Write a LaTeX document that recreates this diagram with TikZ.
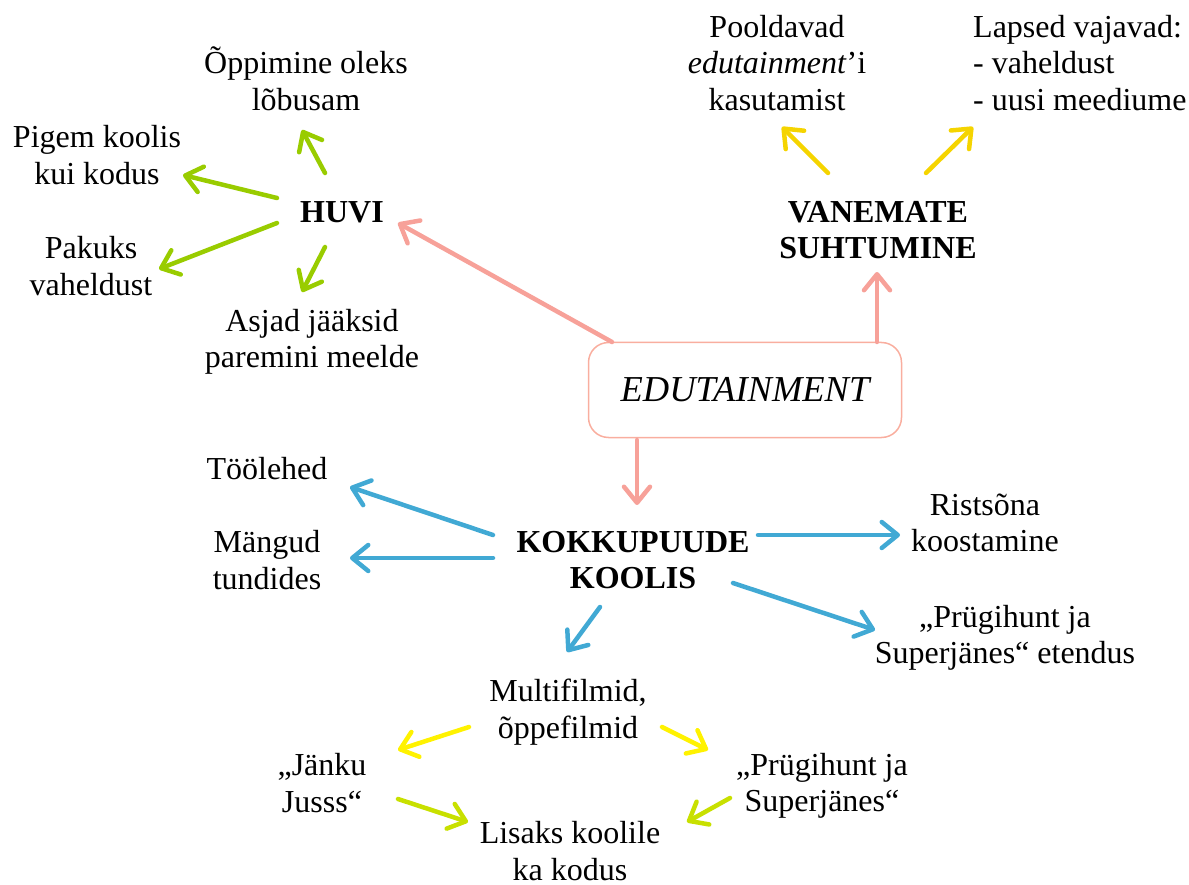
\documentclass[tikz,border=0pt]{standalone}
\usepackage{fontspec}
\setmainfont{Liberation Serif}
\usetikzlibrary{arrows.meta}

\definecolor{salmon}{HTML}{F7A199}
\definecolor{boxpink}{HTML}{F9AE9F}
\definecolor{lime}{HTML}{99CC00}
\definecolor{sky}{HTML}{41A9D4}
\definecolor{gold}{HTML}{F5D400}
\definecolor{lemon}{HTML}{FFF200}
\definecolor{citron}{HTML}{C8E000}

\tikzset{
  txt/.style={inner sep=0pt,align=center,font=\fontsize{32}{36.5}\selectfont},
  head/.style={txt,font=\fontsize{32}{36.5}\selectfont\bfseries},
  arr/.style={line width=4.5pt,line cap=round,-{Straight Barb[length=16pt,width=26pt,round]}},
}

\begin{document}
\begin{tikzpicture}[x=1pt,y=-1pt]
    \useasboundingbox (0,0) rectangle (1189,885);

    \node[draw=boxpink,line width=1.5pt,rounded corners=20pt,minimum width=313pt,minimum height=95pt,
          font=\fontsize{36.5}{40}\selectfont\itshape] (edu) at (745,390) {EDUTAINMENT};

    \node[head] (huvi) at (342,212) {HUVI};
    \node[txt] (opp) at (306,79) {Õppimine oleks\\lõbusam};
    \node[txt] (pigem) at (97,155) {Pigem koolis\\kui kodus};
    \node[txt] (pakuks) at (91,266) {Pakuks\\vaheldust};
    \node[txt] (asjad) at (312,342) {Asjad jääksid\\paremini meelde};

    \node[head] (vanemate) at (878,230) {VANEMATE\\SUHTUMINE};
    \node[txt] (pooldavad) at (777,63) {Pooldavad\\\textit{edutainment}’i\\kasutamist};
    \node[txt,align=left,anchor=west] (lapsed) at (973,63) {Lapsed vajavad:\\- vaheldust\\- uusi meediume};

    \node[head] (kokku) at (633,560) {KOKKUPUUDE\\KOOLIS};
    \node[txt] (tool) at (267,469) {Töölehed};
    \node[txt] (mangud) at (267,560) {Mängud\\tundides};
    \node[txt] (rist) at (985,523) {Ristsõna\\koostamine};
    \node[txt] (etendus) at (1005,638) {„Prügihunt ja\\Superjänes“ etendus};

    \node[txt] (multi) at (568,712) {Multifilmid,\\õppefilmid};
    \node[txt] (jank) at (322,783) {„Jänku\\Jusss“};
    \node[txt] (pruugi) at (822,786) {„Prügihunt ja\\Superjänes“};
    \node[txt] (lisaks) at (570,851) {Lisaks koolile\\ka kodus};

    % edutainment
    \path ([shift={(-133,-48)}]edu.center) edge[arr,draw=salmon] ([shift={(56,11)}]huvi.center);
    \path ([shift={(132,-48)}]edu.center) edge[arr,draw=salmon] ([shift={(-1,42)}]vanemate.center);
    \path ([shift={(-108,50)}]edu.center) edge[arr,draw=salmon] ([shift={(4,-55)}]kokku.center);

    % huvi
    \path ([shift={(-17,-39)}]huvi.center) edge[arr,draw=lime] ([shift={(-4,51)}]opp.center);
    \path ([shift={(-65,-14)}]huvi.center) edge[arr,draw=lime] ([shift={(86,20)}]pigem.center);
    \path ([shift={(-65,11)}]huvi.center) edge[arr,draw=lime] ([shift={(68,3)}]pakuks.center);
    \path ([shift={(-17,35)}]huvi.center) edge[arr,draw=lime] ([shift={(-10,-50)}]asjad.center);

    % vanemate suhtumine
    \path ([shift={(-50,-57)}]vanemate.center) edge[arr,draw=gold] ([shift={(5,64)}]pooldavad.center);
    \path ([shift={(48,-57)}]vanemate.center) edge[arr,draw=gold] ([shift={(0,64)}]lapsed.west);

    % kokkupuude koolis
    \path ([shift={(-140,-25)}]kokku.center) edge[arr,draw=sky] ([shift={(83,18)}]tool.center);
    \path ([shift={(-140,-2)}]kokku.center) edge[arr,draw=sky] ([shift={(83,-2)}]mangud.center);
    \path ([shift={(125,-25)}]kokku.center) edge[arr,draw=sky] ([shift={(-85,12)}]rist.center);
    \path ([shift={(100,23)}]kokku.center) edge[arr,draw=sky] ([shift={(-130,-8)}]etendus.center);
    \path ([shift={(-33,47)}]kokku.center) edge[arr,draw=sky] ([shift={(-1,-60)}]multi.center);

    % filmid
    \path ([shift={(-99,15)}]multi.center) edge[arr,draw=lemon] ([shift={(76,-33)}]jank.center);
    \path ([shift={(94,15)}]multi.center) edge[arr,draw=lemon] ([shift={(-114,-36)}]pruugi.center);
    \path ([shift={(76,16)}]jank.center) edge[arr,draw=citron] ([shift={(-102,-29)}]lisaks.center);
    \path ([shift={(-92,12)}]pruugi.center) edge[arr,draw=citron] ([shift={(117,-29)}]lisaks.center);
  \end{tikzpicture}
\end{document}
